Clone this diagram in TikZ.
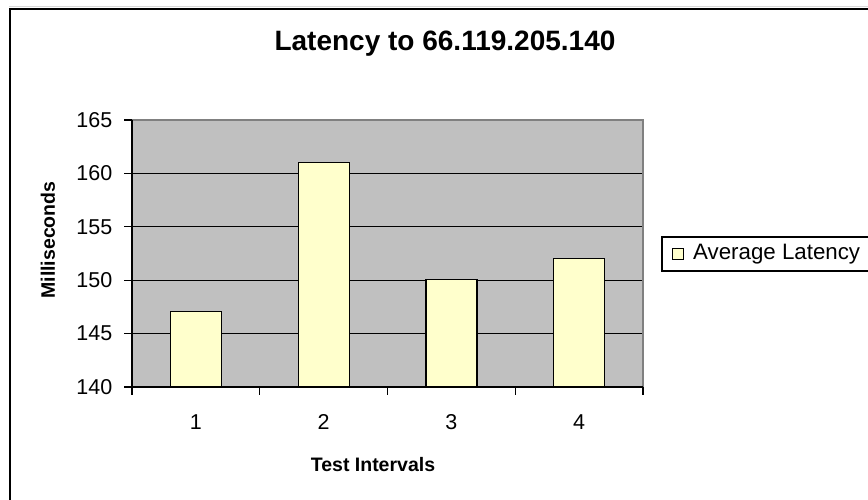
\documentclass[tikz,border=0pt]{standalone}
\usepackage{fontspec}
\setmainfont{Liberation Sans}
\definecolor{plotgray}{HTML}{C0C0C0}
\definecolor{barfill}{HTML}{FFFFCC}
\definecolor{bordergray}{HTML}{808080}
\tikzset{
  barbox/.style={draw=black, line width=1.2pt, fill=barfill, minimum width=51pt, inner sep=0pt, anchor=south},
  ticklab/.style={font=\fontsize{21.5}{24}\selectfont, inner sep=0pt},
  axtitle/.style={font=\fontsize{19.5}{22}\selectfont\bfseries, inner sep=0pt},
  gridln/.style={black, line width=1pt},
  axisln/.style={black, line width=1.2pt},
}
\begin{document}
\begin{tikzpicture}[x=1pt,y=-1pt]
\useasboundingbox (0,0) rectangle (868,500);
\clip (0,0) rectangle (868,500);
% outer chart frame (extends beyond the visible area)
\draw[black!15, line width=1pt] (9,7) -- (880,7);
\draw[black, line width=2pt] (10,9) rectangle (890,520);
% plot area
\fill[plotgray] (132,120) rectangle (643,387);
\foreach \v in {145,150,155,160}{
  \draw[gridln] (132,{387-(\v-140)*10.68}) -- (643,{387-(\v-140)*10.68});
}
\draw[bordergray, line width=1.5pt] (132,120) -- (643,120) -- (643,387);
% bars
\node[barbox, minimum height={7*10.68pt}] (bar1) at (195.9,387) {};
\node[barbox, minimum height={21*10.68pt}] (bar2) at (323.6,387) {};
\node[barbox, minimum height={10*10.68pt}] (bar3) at (451.4,387) {};
\node[barbox, minimum height={12*10.68pt}] (bar4) at (579.1,387) {};
% axes
\coordinate (ytop) at (132,120);
\coordinate (origin) at (132,387);
\coordinate (xend) at (643,387);
\draw[axisln] (ytop) -- (origin) -- (xend);
% y ticks and labels
\foreach \v in {140,145,150,155,160,165}{
  \draw[axisln] (124,{387-(\v-140)*10.68}) -- (132,{387-(\v-140)*10.68});
  \node[ticklab, anchor=east] (yl\v) at (112.5,{387-(\v-140)*10.68}) {\v};
}
% x ticks and labels
\foreach \x in {132,259.75,387.5,515.25,643}{
  \draw[axisln] (\x,387) -- (\x,395);
}
\node[ticklab] (xl1) at (195.9,422) {1};
\node[ticklab] (xl2) at (323.6,422) {2};
\node[ticklab] (xl3) at (451.4,422) {3};
\node[ticklab] (xl4) at (579.1,422) {4};
% titles
\node[font=\fontsize{28}{31}\selectfont\bfseries, inner sep=0pt] (title) at (445,44) {Latency to 66.119.205.140};
\node[axtitle, rotate=90] (ytitle) at (48,240) {Milliseconds};
\node[axtitle] (xtitle) at (373,464.5) {Test Intervals};
% legend
\draw[black, line width=1.2pt] (662,237) rectangle (890,271);
\node[draw=black, line width=1pt, fill=barfill, minimum size=11pt, inner sep=0pt] (legmark) at (677.5,253.5) {};
\node[font=\fontsize{22.3}{25}\selectfont, inner sep=0pt, anchor=west] (legtext) at (693,254) {Average Latency};
\end{tikzpicture}
\end{document}
